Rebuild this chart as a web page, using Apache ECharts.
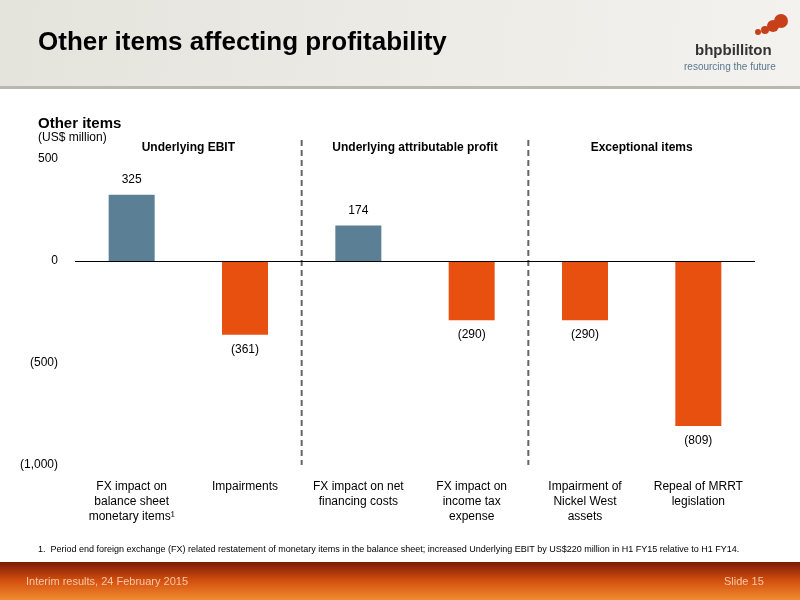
<html>
<head>
<meta charset="utf-8">
<script src="https://cdn.jsdelivr.net/npm/echarts@6/dist/echarts.min.js"></script>
</head>
<body style="margin:0">
<div id="container" style="width:800px;height:600px"></div>
<script>
var categories = ['FX impact on\nbalance sheet\nmonetary items\u00b9', 'Impairments', 'FX impact on net\nfinancing costs',
    'FX impact on\nincome tax\nexpense', 'Impairment of\nNickel West\nassets', 'Repeal of MRRT\nlegislation'];
var values = [325, -361, 174, -290, -290, -809];
var groups = ['Underlying EBIT', 'Underlying attributable profit', 'Exceptional items'];

var font = 'Liberation Sans, Arial, sans-serif';
function fmt(v) {
    var s = Math.abs(v).toLocaleString('en-US');
    return v < 0 ? '(' + s + ')' : s;
}

var chart = echarts.init(document.getElementById('container'));
var option = {
    backgroundColor: '#fff',
    animation: false,
    grid: { left: 75, right: 45, top: 159, bottom: 135 },
    xAxis: {
        type: 'category',
        data: categories,
        axisLine: { show: false },
        axisTick: { show: false },
        axisLabel: { color: '#000', fontFamily: font, fontSize: 12, lineHeight: 15, margin: 14, interval: 0 }
    },
    yAxis: {
        type: 'value', min: -1000, max: 500, interval: 500,
        splitLine: { show: false },
        axisLine: { show: false }, axisTick: { show: false },
        axisLabel: { color: '#000', fontFamily: font, fontSize: 12, margin: 17, formatter: fmt }
    },
    series: [{
        type: 'bar',
        barWidth: 46,
        data: values.map(function (v) {
            return {
                value: v,
                itemStyle: { color: v >= 0 ? '#5B7F95' : '#E8500F' },
                label: { position: v >= 0 ? 'top' : 'bottom' }
            };
        }),
        label: {
            show: true, color: '#000', fontFamily: font, fontSize: 12, distance: 9,
            formatter: function (p) { return fmt(p.value); }
        },
        markLine: {
            silent: true, symbol: 'none', label: { show: false },
            lineStyle: { color: '#000', type: 'solid', width: 1 },
            data: [{ yAxis: 0 }]
        }
    }]
};
chart.setOption(option);

var g = [];
// header & footer
g.push({ type: 'rect', shape: { x: 0, y: 0, width: 800, height: 88 },
    style: { fill: new echarts.graphic.LinearGradient(0, 0, 1, 1, [{ offset: 0, color: '#e4e3dc' }, { offset: 1, color: '#f3f2ee' }]) } });
g.push({ type: 'rect', shape: { x: 0, y: 86, width: 800, height: 3 }, style: { fill: '#b9b8ae' } });
g.push({ type: 'text', x: 38, y: 30, style: { text: 'Other items affecting profitability', fill: '#000', font: 'bold 26px ' + font } });
g.push({ type: 'text', x: 695, y: 43, style: { text: 'bhpbilliton', fill: '#333', font: 'bold 15px ' + font } });
g.push({ type: 'text', x: 684, y: 62, style: { text: 'resourcing the future', fill: '#5a7890', font: '10px ' + font } });
[[758, 32, 3], [765, 30, 4], [773, 26, 6], [781, 21, 7]].forEach(function (c) {
    g.push({ type: 'circle', shape: { cx: c[0], cy: c[1], r: c[2] }, style: { fill: '#c8401a' } });
});
g.push({ type: 'rect', shape: { x: 0, y: 562, width: 800, height: 38 },
    style: { fill: new echarts.graphic.LinearGradient(0, 0, 0, 1, [{ offset: 0, color: '#7a1a05' }, { offset: 0.5, color: '#d5500f' }, { offset: 1, color: '#f08c30' }]) } });
g.push({ type: 'text', x: 26, y: 576, style: { text: 'Interim results, 24 February 2015', fill: '#f4c9a8', font: '11px ' + font } });
g.push({ type: 'text', x: 724, y: 576, style: { text: 'Slide 15', fill: '#f4c9a8', font: '11px ' + font } });
g.push({ type: 'text', x: 38, y: 545, style: { text: '1.  Period end foreign exchange (FX) related restatement of monetary items in the balance sheet; increased Underlying EBIT by US$220 million in H1 FY15 relative to H1 FY14.', fill: '#000', font: '9px ' + font } });
g.push({ type: 'text', x: 38, y: 116, style: { text: 'Other items', fill: '#000', font: 'bold 15px ' + font } });
g.push({ type: 'text', x: 38, y: 132, style: { text: '(US$ million)', fill: '#000', font: '12px ' + font } });

// group separators and titles
var bounds = [-0.5, 1.5, 3.5, 5.5].map(function (i) {
    var a = chart.convertToPixel({ xAxisIndex: 0 }, 0);
    var b = chart.convertToPixel({ xAxisIndex: 0 }, 1);
    return a + (b - a) * i;
});
[1, 2].forEach(function (k) {
    g.push({ type: 'line', shape: { x1: bounds[k], y1: 140, x2: bounds[k], y2: 465 },
        style: { stroke: '#666', lineWidth: 2, lineDash: [6, 4] } });
});
groups.forEach(function (t, k) {
    g.push({ type: 'text', x: (bounds[k] + bounds[k + 1]) / 2, y: 148,
        style: { text: t, fill: '#000', font: 'bold 12px ' + font, align: 'center', verticalAlign: 'middle' } });
});
chart.setOption({ graphic: g });
</script>
</body>
</html>
